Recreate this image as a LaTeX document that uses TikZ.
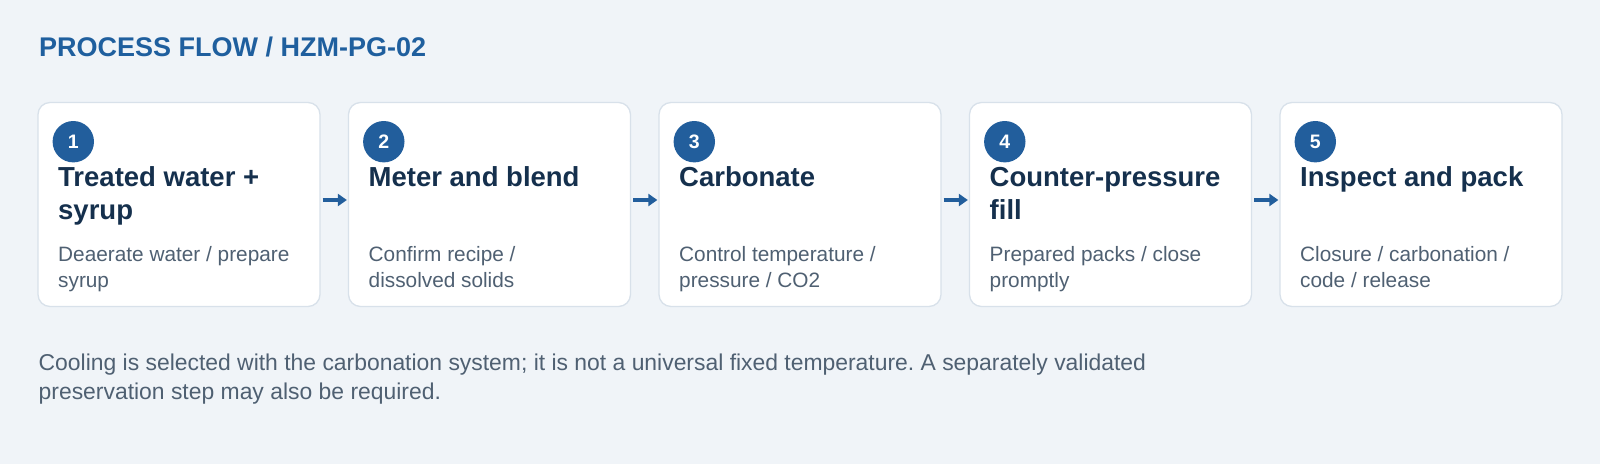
\documentclass[tikz,border=0pt]{standalone}
\usepackage{fontspec}
\setmainfont{Liberation Sans}
\usetikzlibrary{arrows.meta,calc}
\frenchspacing
\definecolor{bgc}{HTML}{F0F4F8}
\definecolor{boxline}{HTML}{D8E1EA}
\definecolor{accent}{HTML}{225E9C}
\definecolor{titlec}{HTML}{1F5F9E}
\definecolor{headc}{HTML}{15304D}
\definecolor{subc}{HTML}{4F6072}
\tikzset{
  stepbox/.style={draw=boxline, line width=1.3pt, fill=white, rounded corners=12pt,
    minimum width=282pt, minimum height=204pt, inner sep=0pt},
  numdot/.style={circle, fill=accent, minimum size=41.4pt, inner sep=0pt,
    text=white, font=\fontsize{19.5}{19.5}\selectfont\bfseries},
  headtxt/.style={anchor=base west, inner sep=0pt, align=left, text=headc,
    font=\fontsize{27.5}{33}\selectfont\bfseries},
  subtxt/.style={anchor=base west, inner sep=0pt, align=left, text=subc,
    font=\fontsize{20.8}{25.5}\selectfont},
  titletxt/.style={anchor=base west, inner sep=0pt, text=titlec,
    font=\fontsize{27}{31.5}\selectfont\bfseries},
  foottxt/.style={anchor=base west, inner sep=0pt, align=left, text=subc,
    font=\fontsize{22.9}{28.5}\selectfont},
  flowarrow/.style={draw=accent, line width=4pt, -{Triangle[length=9pt,width=12pt]}}
}
\begin{document}
\begin{tikzpicture}[x=1pt,y=-1pt]
\fill[bgc] (0,0) rectangle (1600,464);
\node[titletxt] (title) at (39,56.7) {PROCESS FLOW / HZM-PG-02};

\node[stepbox] (b1) at (179,204.5) {};
\node[stepbox] (b2) at (489.5,204.5) {};
\node[stepbox] (b3) at (800,204.5) {};
\node[stepbox] (b4) at (1110.5,204.5) {};
\node[stepbox] (b5) at (1421,204.5) {};

\node[numdot] (n1) at (73.3,141.7) {1};
\node[numdot] (n2) at (383.8,141.7) {2};
\node[numdot] (n3) at (694.3,141.7) {3};
\node[numdot] (n4) at (1004.8,141.7) {4};
\node[numdot] (n5) at (1315.3,141.7) {5};

% multi-line nodes: base anchor is the baseline of the last line
\node[headtxt] (h1) at (58,219.3) {Treated water +\\syrup};
\node[headtxt] (h2) at (368.5,186.3) {Meter and blend};
\node[headtxt] (h3) at (679,186.3) {Carbonate};
\node[headtxt] (h4) at (989.5,219.3) {Counter-pressure\\fill};
\node[headtxt] (h5) at (1300,186.3) {Inspect and pack};

\node[subtxt] (s1) at (58,287.2) {Deaerate water / prepare\\syrup};
\node[subtxt] (s2) at (368.5,287.2) {Confirm recipe /\\dissolved solids};
\node[subtxt] (s3) at (679,287.2) {Control temperature /\\pressure / CO2};
\node[subtxt] (s4) at (989.5,287.2) {Prepared packs / close\\promptly};
\node[subtxt] (s5) at (1300,287.2) {Closure / carbonation /\\code / release};

\draw[flowarrow] ([xshift=2pt,yshift=4.5pt]b1.east) -- ([xshift=-1pt,yshift=4.5pt]b2.west);
\draw[flowarrow] ([xshift=2pt,yshift=4.5pt]b2.east) -- ([xshift=-1pt,yshift=4.5pt]b3.west);
\draw[flowarrow] ([xshift=2pt,yshift=4.5pt]b3.east) -- ([xshift=-1pt,yshift=4.5pt]b4.west);
\draw[flowarrow] ([xshift=2pt,yshift=4.5pt]b4.east) -- ([xshift=-1pt,yshift=4.5pt]b5.west);

\node[foottxt] (foot) at (38.5,399.3) {Cooling is selected with the carbonation system; it is not a universal fixed temperature. A separately validated\\preservation step may also be required.};
\end{tikzpicture}
\end{document}
